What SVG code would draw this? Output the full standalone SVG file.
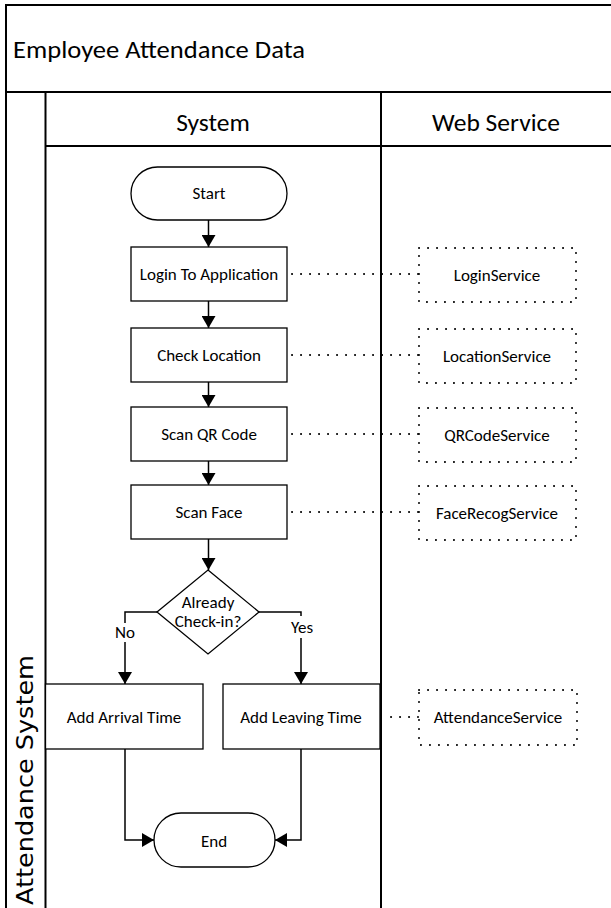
<svg xmlns="http://www.w3.org/2000/svg" width="611" height="908" viewBox="0 0 611 908">
  <style>
    .frame { fill: none; stroke: #000; stroke-width: 2; }
    .shape { fill: #fff; stroke: #000; stroke-width: 1.3; }
    .svc { fill: #fff; stroke: #000; stroke-width: 2; stroke-dasharray: 0.1 8.9; stroke-linecap: round; }
    .flow { fill: none; stroke: #000; stroke-width: 1.5; }
    .dot { fill: none; stroke: #000; stroke-width: 2; stroke-dasharray: 0.1 8.9; stroke-linecap: round; }
    text { font-family: Carlito, "Liberation Sans Narrow", "Liberation Sans", Arial, sans-serif; fill: #000; }
    .lbl { font-size: 17px; text-anchor: middle; dominant-baseline: central; }
    .hdr { font-size: 25.5px; text-anchor: middle; }
  </style>
  <defs>
    <marker id="arrow" viewBox="0 0 12 14" refX="12" refY="7" markerWidth="12" markerHeight="14" markerUnits="userSpaceOnUse" orient="auto">
      <path d="M0,0 L12,7 L0,14 Z" fill="#000"/>
    </marker>
  </defs>

  <rect width="611" height="908" fill="#fff"/>

  <!-- pool and lanes -->
  <g id="pool">
    <rect class="frame" x="6" y="5" width="612" height="910"/>
    <line class="frame" x1="6" y1="92" x2="611" y2="92"/>
    <line class="frame" x1="45.5" y1="92" x2="45.5" y2="908"/>
    <line class="frame" x1="45.5" y1="146" x2="611" y2="146"/>
    <line class="frame" x1="381" y1="92" x2="381" y2="908"/>
    <text x="13" y="58" font-size="25" textLength="292" lengthAdjust="spacingAndGlyphs">Employee Attendance Data</text>
    <text class="hdr" x="213" y="131">System</text>
    <text class="hdr" x="496" y="131">Web Service</text>
    <text x="33" y="905" font-size="23" transform="rotate(-90 33 905)" textLength="250" lengthAdjust="spacingAndGlyphs" style="font-family: 'DejaVu Sans', 'Open Sans', sans-serif">Attendance System</text>
  </g>

  <!-- connectors -->
  <g id="connectors">
    <line class="flow" x1="208.5" y1="220" x2="208.5" y2="247" marker-end="url(#arrow)"/>
    <line class="flow" x1="208.5" y1="301" x2="208.5" y2="328" marker-end="url(#arrow)"/>
    <line class="flow" x1="208.5" y1="382" x2="208.5" y2="407" marker-end="url(#arrow)"/>
    <line class="flow" x1="208.5" y1="461" x2="208.5" y2="485" marker-end="url(#arrow)"/>
    <line class="flow" x1="208.5" y1="539" x2="208.5" y2="570" marker-end="url(#arrow)"/>
    <polyline class="flow" points="157,612 125,612 125,684" marker-end="url(#arrow)"/>
    <polyline class="flow" points="259,612 301,612 301,684" marker-end="url(#arrow)"/>
    <polyline class="flow" points="125,749 125,840 154,840" marker-end="url(#arrow)"/>
    <polyline class="flow" points="301,749 301,840 275,840" marker-end="url(#arrow)"/>
    <!-- label backgrounds break the branch lines -->
    <rect x="115" y="623" width="20" height="19" fill="#fff"/>
    <rect x="288" y="616" width="28" height="22" fill="#fff"/>
    <text class="lbl" x="125" y="632">No</text>
    <text class="lbl" x="302" y="627">Yes</text>
    <!-- service links -->
    <line class="dot" x1="292" y1="274" x2="418" y2="274"/>
    <line class="dot" x1="292" y1="355" x2="418" y2="355"/>
    <line class="dot" x1="292" y1="434" x2="418" y2="434"/>
    <line class="dot" x1="292" y1="512" x2="418" y2="512"/>
    <line class="dot" x1="391" y1="717" x2="418" y2="717"/>
  </g>

  <!-- system lane -->
  <g id="start">
    <rect class="shape" x="131" y="167" width="156" height="53" rx="26.5"/>
    <text class="lbl" x="209" y="193">Start</text>
  </g>
  <g id="login">
    <rect class="shape" x="131" y="247" width="156" height="54"/>
    <text class="lbl" x="209" y="274">Login To Application</text>
  </g>
  <g id="check-location">
    <rect class="shape" x="131" y="328" width="156" height="54"/>
    <text class="lbl" x="209" y="355">Check Location</text>
  </g>
  <g id="scan-qr">
    <rect class="shape" x="131" y="407" width="156" height="54"/>
    <text class="lbl" x="209" y="434">Scan QR Code</text>
  </g>
  <g id="scan-face">
    <rect class="shape" x="131" y="485" width="156" height="54"/>
    <text class="lbl" x="209" y="512">Scan Face</text>
  </g>
  <g id="decision">
    <polygon class="shape" points="208,570 259,612 208,654 157,612"/>
    <text class="lbl" x="208" y="602">Already</text>
    <text class="lbl" x="208" y="621">Check-in?</text>
  </g>
  <g id="add-arrival">
    <rect class="shape" x="45.5" y="684" width="157.5" height="65"/>
    <text class="lbl" x="124" y="717">Add Arrival Time</text>
  </g>
  <g id="add-leaving">
    <rect class="shape" x="223" y="684" width="157" height="65"/>
    <text class="lbl" x="301" y="717">Add Leaving Time</text>
  </g>
  <g id="end">
    <rect class="shape" x="154" y="813" width="121" height="54" rx="27"/>
    <text class="lbl" x="214" y="841">End</text>
  </g>

  <!-- web service lane -->
  <g id="login-service">
    <rect class="svc" x="419" y="248" width="157" height="54"/>
    <text class="lbl" x="497" y="275">LoginService</text>
  </g>
  <g id="location-service">
    <rect class="svc" x="419" y="329" width="157" height="54"/>
    <text class="lbl" x="497" y="356">LocationService</text>
  </g>
  <g id="qrcode-service">
    <rect class="svc" x="419" y="408" width="157" height="54"/>
    <text class="lbl" x="497" y="435">QRCodeService</text>
  </g>
  <g id="facerecog-service">
    <rect class="svc" x="419" y="486" width="157" height="54"/>
    <text class="lbl" x="497" y="513">FaceRecogService</text>
  </g>
  <g id="attendance-service">
    <rect class="svc" x="419" y="690" width="158" height="55"/>
    <text class="lbl" x="498" y="717">AttendanceService</text>
  </g>
</svg>
